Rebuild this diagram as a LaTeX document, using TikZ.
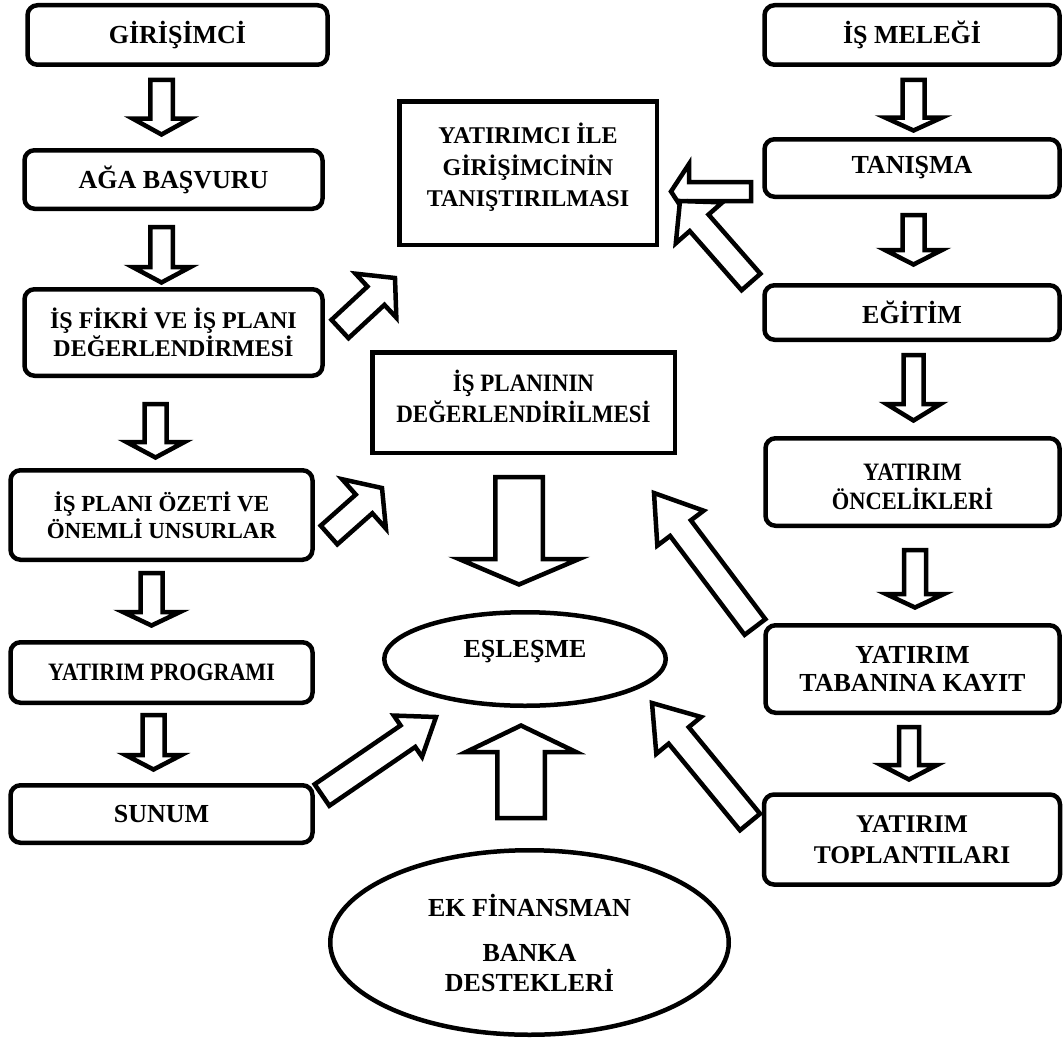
\documentclass[tikz,border=0pt]{standalone}
\usepackage{fontspec}
\setmainfont{Liberation Serif}
\newfontfamily\cnda[FakeStretch=0.88]{Liberation Serif}
\newfontfamily\cndb[FakeStretch=0.90]{Liberation Serif}
\newfontfamily\cndc[FakeStretch=0.92]{Liberation Serif}
\usetikzlibrary{calc,shapes.geometric}
% block arrow: #1 name, #2 tail coord, #3 tip coord, #4 shaft half width, #5 head half width, #6 head length
\newcommand\blkarrow[6]{%
  \coordinate (#1h) at ($(#3)!#6pt!(#2)$);
  \draw[blk] ($(#2)!#4pt!90:(#3)$) -- ($(#1h)!#4pt!90:(#3)$) -- ($(#1h)!#5pt!90:(#3)$) -- (#3)
    -- ($(#1h)!#5pt!-90:(#3)$) -- ($(#1h)!#4pt!-90:(#3)$) -- ($(#2)!#4pt!-90:(#3)$) -- cycle;
}
\begin{document}
\begin{tikzpicture}[x=1pt,y=-1pt,
  rbox/.style={draw, line width=4.5pt, rounded corners=10pt, fill=white, inner sep=0pt, align=center},
  sbox/.style={draw, line width=4.5pt, fill=white, inner sep=0pt, align=center},
  ebox/.style={draw, ellipse, line width=4.5pt, fill=white, inner sep=0pt, align=center},
  blk/.style={draw, line width=4.5pt, fill=white, line join=miter, miter limit=10},
  fA/.style={font=\bfseries\fontsize{26}{30}\selectfont},
]
\fill[white] (0,0) rectangle (1063,1041);
\useasboundingbox (0,0) rectangle (1063,1041);

% ---------- left column ----------
\node[rbox, fA, minimum width=300pt, minimum height=59.5pt] (g1) at (177.5,35) {GİRİŞİMCİ};
\node[rbox, fA, minimum width=298pt, minimum height=58.5pt] (g2) at (173.5,179.5) {AĞA BAŞVURU};
\node[rbox, font=\bfseries\fontsize{24}{28}\selectfont, minimum width=298pt, minimum height=86.5pt] (g3) at (173.5,332.5) {İŞ FİKRİ VE İŞ PLANI\\DEĞERLENDİRMESİ};
\node[rbox, font=\bfseries\fontsize{23}{26.7}\selectfont, minimum width=302pt, minimum height=89.5pt] (g4) at (161.5,515) {İŞ PLANI ÖZETİ VE\\ÖNEMLİ UNSURLAR};
\node[rbox, font=\cnda\bfseries\fontsize{25}{29}\selectfont, minimum width=302pt, minimum height=60.5pt] (g5) at (161.5,672.5) {YATIRIM PROGRAMI};
\node[rbox, fA, minimum width=302pt, minimum height=57.5pt] (g6) at (161.5,814) {SUNUM};

% ---------- right column ----------
\node[rbox, fA, minimum width=295pt, minimum height=59.5pt] (r1) at (912,35) {İŞ MELEĞİ};
\node[rbox, fA, minimum width=295pt, minimum height=57.5pt] (r2) at (912,168) {TANIŞMA};
\node[rbox, fA, minimum width=295pt, minimum height=54.5pt] (r3) at (912,312.5) {EĞİTİM};
\node[rbox, minimum width=294pt, minimum height=87.5pt,
  label={[font=\cndb\bfseries\fontsize{25}{28.3}\selectfont, align=center, yshift=-5pt]center:{YATIRIM\\ÖNCELİKLERİ}}] (r4) at (912.5,482) {};
\node[rbox, font=\bfseries\fontsize{26}{28.3}\selectfont, minimum width=294pt, minimum height=87.5pt] (r5) at (912.5,669) {YATIRIM\\TABANINA KAYIT};
\node[rbox, font=\bfseries\fontsize{25.5}{31}\selectfont, minimum width=296pt, minimum height=90pt] (r6) at (912,839.5) {YATIRIM\\TOPLANTILARI};

% ---------- middle ----------
\node[sbox, minimum width=257.5pt, minimum height=143.5pt,
  label={[font=\bfseries\fontsize{24}{31.5}\selectfont, align=center, yshift=5.5pt]center:{YATIRIMCI İLE\\GİRİŞİMCİNİN\\TANIŞTIRILMASI}}] (m1) at (528,173) {};
\node[sbox, minimum width=302.5pt, minimum height=100.5pt,
  label={[font=\cndc\bfseries\fontsize{25}{31.7}\selectfont, align=center, yshift=6pt]center:{İŞ PLANININ\\DEĞERLENDİRİLMESİ}}] (m2) at (523.5,402.5) {};
\node[ebox, minimum width=281.5pt, minimum height=93.5pt,
  label={[fA, yshift=7pt]center:EŞLEŞME}] (e1) at (525,659) {};
\node[ebox, font=\bfseries\fontsize{26}{30}\selectfont, minimum width=398.5pt, minimum height=184.5pt] (e2) at (529.5,942.5) {EK FİNANSMAN\\[15pt]BANKA\\DESTEKLERİ};

% ---------- arrow end points ----------
\coordinate (a1t) at (161.5,80);   \coordinate (a1p) at (161.5,134.5);
\coordinate (a2t) at (161.5,227);  \coordinate (a2p) at (161.5,282.5);
\coordinate (a3t) at (155.5,404);  \coordinate (a3p) at (155.5,457.5);
\coordinate (a4t) at (151.5,573);  \coordinate (a4p) at (151.5,625.5);
\coordinate (a5t) at (153.5,715);  \coordinate (a5p) at (153.5,769.5);
\coordinate (b1t) at (913.5,80);   \coordinate (b1p) at (913.5,130.5);
\coordinate (b2t) at (913.5,215);  \coordinate (b2p) at (913.5,264.5);
\coordinate (b3t) at (913.5,355);  \coordinate (b3p) at (913.5,420.5);
\coordinate (b4t) at (915,550);    \coordinate (b4p) at (915,607.5);
\coordinate (b5t) at (909,727);    \coordinate (b5p) at (909,779.5);
\coordinate (c1t) at (519,477);    \coordinate (c1p) at (519,584.5);
\coordinate (c2t) at (521,818);    \coordinate (c2p) at (521,725.5);
\coordinate (d1t) at (340,329);    \coordinate (d1p) at (395,278);
\coordinate (d2t) at (329,535);    \coordinate (d2p) at (382,488);
\coordinate (d3t) at (322,795);    \coordinate (d3p) at (436,717);
\coordinate (d4t) at (751,191.5);  \coordinate (d4p) at (671,191.5);
\coordinate (d5t) at (751,282);    \coordinate (d5p) at (680,201);
\coordinate (d6t) at (755,627);    \coordinate (d6p) at (654,493);
\coordinate (d7t) at (750,822);    \coordinate (d7p) at (652,703);

% ---------- arrows ----------
\blkarrow{a1}{a1t}{a1p}{11.25}{29}{16}
\blkarrow{a2}{a2t}{a2p}{11.25}{29}{15.5}
\blkarrow{a3}{a3t}{a3p}{11}{29}{15.5}
\blkarrow{a4}{a4t}{a4p}{11}{28.5}{13.5}
\blkarrow{a5}{a5t}{a5p}{11}{28}{14.5}
\blkarrow{b1}{b1t}{b1p}{11}{28.5}{13}
\blkarrow{b2}{b2t}{b2p}{11}{28.5}{14.5}
\blkarrow{b3}{b3t}{b3p}{10}{27}{16.5}
\blkarrow{b4}{b4t}{b4p}{11}{29}{13.5}
\blkarrow{b5}{b5t}{b5p}{10}{28}{14.5}
\blkarrow{c1}{c1t}{c1p}{23.75}{60}{25.5}
\blkarrow{c2}{c2t}{c2p}{23.75}{55}{26.5}
\blkarrow{d1}{d1t}{d1p}{12.5}{30}{26}
\blkarrow{d2}{d2t}{d2p}{12.5}{33}{24}
\blkarrow{d3}{d3t}{d3p}{13}{25}{34}
\blkarrow{d4}{d4t}{d4p}{9.5}{27.5}{18}
\blkarrow{d5}{d5t}{d5p}{12.5}{31}{29}
\blkarrow{d6}{d6t}{d6p}{13}{29}{44}
\blkarrow{d7}{d7t}{d7p}{13}{29}{42}
\end{tikzpicture}
\end{document}
